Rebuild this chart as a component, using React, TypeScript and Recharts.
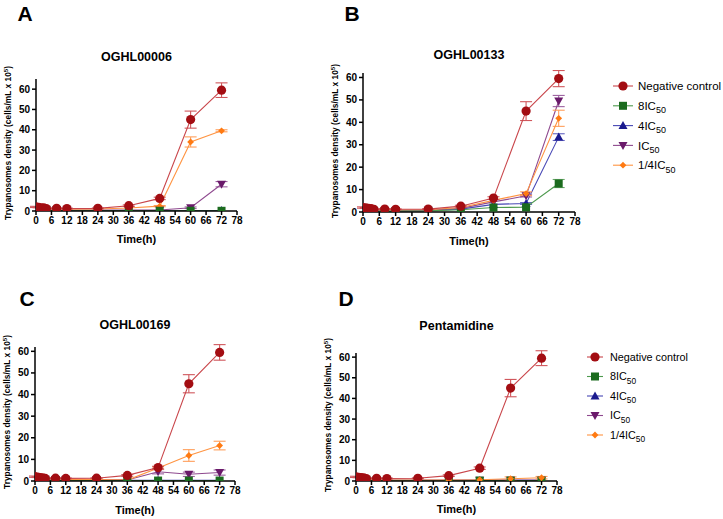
import React from 'react';
import { LineChart, Line, XAxis, YAxis, ErrorBar } from 'recharts';

// sampling times (h)
const hours = [0, 1, 2, 3, 4, 8, 12, 24, 36, 48, 60, 72];
const xTicks = [0, 6, 12, 18, 24, 30, 36, 42, 48, 54, 60, 66, 72, 78];
const yTicks = [0, 10, 20, 30, 40, 50, 60];

// untreated culture, shared by every panel
const negControl = [2.0, 1.8, 1.6, 1.5, 1.2, 1.3, 1.2, 1.3, 2.6, 6.2, 45.0, 59.5];
const negControlSd = [0.3, 0.2, 0.2, 0.2, 0.2, 0.2, 0.2, 0.2, 0.4, 0.6, 4.2, 3.6];

// OGHL00006
const a8 = [1.0, 0.6, 0.5, 0.4, 0.3, 0.2, 0.1, 0.1, 0.1, 0.1, 0.1, 0.1];
const a4 = [1.0, 0.6, 0.5, 0.4, 0.3, 0.2, 0.2, 0.2, 0.2, 0.2, 0.2, 0.2];
const a1 = [1.2, 1.0, 0.9, 0.8, 0.7, 0.6, 0.5, 0.5, 0.5, 0.5, 1.6, 13.2];
const a1Sd = [0, 0, 0, 0, 0, 0, 0, 0, 0, 0, 0.4, 1.3];
const aQ = [1.5, 1.3, 1.2, 1.1, 1.0, 1.0, 0.9, 1.0, 1.5, 2.4, 34.0, 39.5];
const aQSd = [0, 0, 0, 0, 0, 0, 0, 0, 0, 0.3, 2.5, 0.5];

// OGHL00133
const b8 = [1.0, 0.8, 0.7, 0.6, 0.5, 0.4, 0.4, 0.5, 1.0, 2.0, 2.1, 12.7];
const b8Sd = [0, 0, 0, 0, 0, 0, 0, 0, 0, 0, 0, 1.8];
const b4 = [1.0, 0.8, 0.7, 0.6, 0.5, 0.5, 0.5, 0.6, 1.3, 3.4, 3.8, 33.4];
const b4Sd = [0, 0, 0, 0, 0, 0, 0, 0, 0, 0, 0.4, 1.5];
const b1 = [1.2, 1.0, 0.9, 0.8, 0.7, 0.7, 0.7, 0.8, 1.6, 4.5, 7.2, 49.5];
const b1Sd = [0, 0, 0, 0, 0, 0, 0, 0, 0, 0, 0.5, 2.5];
const bQ = [1.4, 1.2, 1.1, 1.0, 0.9, 0.9, 0.9, 1.0, 2.0, 5.2, 8.2, 41.8];
const bQSd = [0, 0, 0, 0, 0, 0, 0, 0, 0, 0, 0.8, 3.6];

// OGHL00169
const c8 = [1.2, 0.8, 0.6, 0.5, 0.4, 0.3, 0.2, 0.2, 0.2, 0.2, 0.2, 0.2];
const c4 = [1.2, 0.8, 0.6, 0.5, 0.4, 0.3, 0.3, 0.3, 0.3, 0.3, 0.3, 0.3];
const c1 = [1.4, 1.1, 1.0, 0.9, 0.8, 0.7, 0.6, 0.6, 0.5, 4.3, 3.1, 3.9];
const c1Sd = [0, 0, 0, 0, 0, 0, 0, 0, 0, 1.0, 1.0, 1.2];
const cQ = [1.5, 1.2, 1.1, 1.0, 0.9, 0.8, 0.7, 0.7, 0.4, 6.0, 11.8, 16.4];
const cQSd = [0, 0, 0, 0, 0, 0, 0, 0, 0, 0.5, 2.7, 2.0];

// Pentamidine
const d8 = [1.0, 0.7, 0.6, 0.5, 0.4, 0.3, 0.2, 0.2, 0.2, 0.2, 0.2, 0.2];
const d4 = [1.0, 0.7, 0.6, 0.5, 0.4, 0.3, 0.3, 0.3, 0.3, 0.3, 0.3, 0.3];
const d1 = [1.1, 0.8, 0.7, 0.6, 0.5, 0.4, 0.3, 0.3, 0.3, 0.4, 0.4, 0.4];
const dQ = [1.2, 1.0, 0.9, 0.8, 0.7, 0.6, 0.5, 0.5, 0.5, 0.6, 1.1, 1.6];
const dQSd = [0, 0, 0, 0, 0, 0, 0, 0, 0, 0, 0.9, 0.6];

const FONT = '"Liberation Sans", Arial, sans-serif';

type Shape = 'circle' | 'square' | 'up' | 'down' | 'diamond';

const seriesStyle: Record<string, { line: string; mark: string; bar: string; shape: Shape }> = {
  neg: { line: '#C9464B', mark: '#A30D12', bar: '#D0575C', shape: 'circle' },
  ic8: { line: '#4E9A4E', mark: '#1B6B1E', bar: '#69A969', shape: 'square' },
  ic4: { line: '#4747B5', mark: '#1A1A8E', bar: '#6262C0', shape: 'up' },
  ic1: { line: '#8F4A8F', mark: '#6A1A6A', bar: '#9C62A0', shape: 'down' },
  icQ: { line: '#FF9442', mark: '#FF7A12', bar: '#FF9E5A', shape: 'diamond' },
};

const legendItems = [
  { key: 'neg', text: 'Negative control', sub: '' },
  { key: 'ic8', text: '8IC', sub: '50' },
  { key: 'ic4', text: '4IC', sub: '50' },
  { key: 'ic1', text: 'IC', sub: '50' },
  { key: 'icQ', text: '1/4IC', sub: '50' },
];

const drawShape = (shape: Shape, cx: number, cy: number, fill: string, k?: any) => {
  switch (shape) {
    case 'circle':
      return <circle key={k} cx={cx} cy={cy} r={4.6} fill={fill} />;
    case 'square':
      return <rect key={k} x={cx - 4} y={cy - 4} width={8} height={8} fill={fill} />;
    case 'up':
      return <polygon key={k} points={`${cx},${cy - 4.5} ${cx + 4.5},${cy + 3.5} ${cx - 4.5},${cy + 3.5}`} fill={fill} />;
    case 'down':
      return <polygon key={k} points={`${cx},${cy + 4.5} ${cx + 4.5},${cy - 3.5} ${cx - 4.5},${cy - 3.5}`} fill={fill} />;
    default:
      return <polygon key={k} points={`${cx},${cy - 3.4} ${cx + 3.4},${cy} ${cx},${cy + 3.4} ${cx - 3.4},${cy}`} fill={fill} />;
  }
};

const makeDot = (name: string) => (props: any) => {
  const { cx, cy, key } = props;
  if (cx == null || cy == null) return <g key={key} />;
  const s = seriesStyle[name];
  return drawShape(s.shape, cx, cy, s.mark, key);
};

type SeriesSet = { ic8: number[]; ic8Sd?: number[]; ic4: number[]; ic4Sd?: number[]; ic1: number[]; ic1Sd?: number[]; icQ: number[]; icQSd?: number[] };

const buildRows = (s: SeriesSet) =>
  hours.map((h, i) => {
    const err = (arr?: number[]) => (arr && arr[i] > 0 ? arr[i] : null);
    return {
      h,
      neg: negControl[i],
      negSd: err(negControlSd),
      ic8: s.ic8[i],
      ic8Sd: err(s.ic8Sd),
      ic4: s.ic4[i],
      ic4Sd: err(s.ic4Sd),
      ic1: s.ic1[i],
      ic1Sd: err(s.ic1Sd),
      icQ: s.icQ[i],
      icQSd: err(s.icQSd),
    };
  });

interface PanelProps {
  letter: string;
  letterPos: [number, number];
  title: string;
  titleY: number;
  rows: any[];
  plot: { left: number; right: number; top: number; bottom: number };
  yMax: number;
  yLabelX: number;
  timeY: number;
  drawOrder: string[];
}

const tickStyle = { fill: '#000', fontSize: 10, fontWeight: 700, fontFamily: FONT };

const Panel: React.FC<PanelProps> = ({ letter, letterPos, title, titleY, rows, plot, yMax, yLabelX, timeY, drawOrder }) => {
  const yw = 40;
  const xh = 30;
  const mt = 10;
  const mr = 10;
  const left = plot.left - yw;
  const top = plot.top - mt;
  const width = plot.right + mr - left;
  const height = plot.bottom + xh - top;
  const cx = (plot.left + plot.right) / 2;
  const cy = (plot.top + plot.bottom) / 2;

  return (
    <>
      <div style={{ position: 'absolute', left: letterPos[0], top: letterPos[1], transform: 'translate(-50%,-50%)', fontSize: 21, fontWeight: 700 }}>{letter}</div>
      <div style={{ position: 'absolute', left: cx, top: titleY, transform: 'translate(-50%,-50%)', fontSize: 12.5, fontWeight: 700, whiteSpace: 'nowrap' }}>{title}</div>
      <div style={{ position: 'absolute', left: cx, top: timeY, transform: 'translate(-50%,-50%)', fontSize: 11, fontWeight: 700, whiteSpace: 'nowrap' }}>Time(h)</div>
      <div
        style={{
          position: 'absolute',
          left: yLabelX,
          top: cy - 2,
          transform: 'translate(-50%,-50%) rotate(-90deg)',
          fontSize: 8.4,
          fontWeight: 700,
          whiteSpace: 'nowrap',
        }}
      >
        Trypanosomes density (cells/mL x 10<sup style={{ fontSize: 6, verticalAlign: 'top', lineHeight: 1 }}>5</sup>)
      </div>
      <div style={{ position: 'absolute', left, top }}>
        <LineChart width={width} height={height} data={rows} margin={{ top: mt, right: mr, bottom: 0, left: 0 }}>
          <XAxis
            dataKey="h"
            type="number"
            domain={[0, 78]}
            ticks={xTicks}
            interval={0}
            height={xh}
            stroke="#000"
            strokeWidth={1.5}
            tickSize={4}
            tickMargin={2}
            tick={tickStyle}
            allowDataOverflow
          />
          <YAxis
            type="number"
            domain={[0, yMax]}
            ticks={yTicks}
            interval={0}
            width={yw}
            stroke="#000"
            strokeWidth={1.5}
            tickSize={4}
            tickMargin={2}
            tick={tickStyle}
            allowDataOverflow
          />
          {drawOrder.map((k) => (
            <Line
              key={k}
              dataKey={k}
              stroke={seriesStyle[k].line}
              strokeWidth={1.1}
              dot={makeDot(k)}
              activeDot={false}
              isAnimationActive={false}
            >
              <ErrorBar dataKey={`${k}Sd`} width={6} stroke={seriesStyle[k].bar} strokeWidth={1.1} direction="y" />
            </Line>
          ))}
        </LineChart>
      </div>
    </>
  );
};

const Legend: React.FC<{ x: number; y: number; gap: number; fontSize: number; textDx: number; lineHalf: number }> = ({ x, y, gap, fontSize, textDx, lineHalf }) => (
  <svg style={{ position: 'absolute', left: 0, top: 0 }} width={723} height={519}>
    {legendItems.map((it, i) => {
      const s = seriesStyle[it.key];
      const yy = y + i * gap;
      return (
        <g key={it.key}>
          <line x1={x - lineHalf} x2={x + lineHalf} y1={yy} y2={yy} stroke={s.line} strokeWidth={1.1} />
          {drawShape(s.shape, x, yy, s.mark)}
          <text x={x + textDx} y={yy + fontSize * 0.36} fontSize={fontSize} fontFamily={FONT} fill="#000">
            {it.text}
            {it.sub && (
              <tspan fontSize={fontSize * 0.78} dy={fontSize * 0.3}>
                {it.sub}
              </tspan>
            )}
          </text>
        </g>
      );
    })}
  </svg>
);

const order = ['ic4', 'ic1', 'icQ', 'ic8', 'neg'];

const App: React.FC = () => (
  <div style={{ position: 'absolute', left: 0, top: 0, width: 723, height: 519, background: '#fff', fontFamily: FONT, color: '#000', overflow: 'hidden' }}>
    <Panel
      letter="A"
      letterPos={[25, 14]}
      title="OGHL00006"
      titleY={57}
      rows={buildRows({ ic8: a8, ic4: a4, ic1: a1, ic1Sd: a1Sd, icQ: aQ, icQSd: aQSd })}
      plot={{ left: 36, right: 237, top: 79, bottom: 211 }}
      yMax={65}
      yLabelX={8}
      timeY={239}
      drawOrder={order}
    />
    <Panel
      letter="B"
      letterPos={[352, 14]}
      title="OGHL00133"
      titleY={55}
      rows={buildRows({ ic8: b8, ic8Sd: b8Sd, ic4: b4, ic4Sd: b4Sd, ic1: b1, ic1Sd: b1Sd, icQ: bQ, icQSd: bQSd })}
      plot={{ left: 363, right: 575, top: 73, bottom: 212 }}
      yMax={62}
      yLabelX={335}
      timeY={241}
      drawOrder={order}
    />
    <Panel
      letter="C"
      letterPos={[27, 299]}
      title="OGHL00169"
      titleY={325}
      rows={buildRows({ ic8: c8, ic4: c4, ic1: c1, ic1Sd: c1Sd, icQ: cQ, icQSd: cQSd })}
      plot={{ left: 35, right: 235, top: 347, bottom: 481 }}
      yMax={62}
      yLabelX={7}
      timeY={510}
      drawOrder={order}
    />
    <Panel
      letter="D"
      letterPos={[346, 299]}
      title="Pentamidine"
      titleY={326}
      rows={buildRows({ ic8: d8, ic4: d4, ic1: d1, icQ: dQ, icQSd: dQSd })}
      plot={{ left: 356, right: 557, top: 353, bottom: 481 }}
      yMax={62}
      yLabelX={328}
      timeY={509}
      drawOrder={['ic4', 'ic1', 'ic8', 'icQ', 'neg']}
    />
    <Legend x={623} y={86} gap={19.8} fontSize={11.5} textDx={15} lineHalf={10} />
    <Legend x={595} y={357} gap={19.5} fontSize={10.8} textDx={15} lineHalf={8} />
  </div>
);

export default App;
